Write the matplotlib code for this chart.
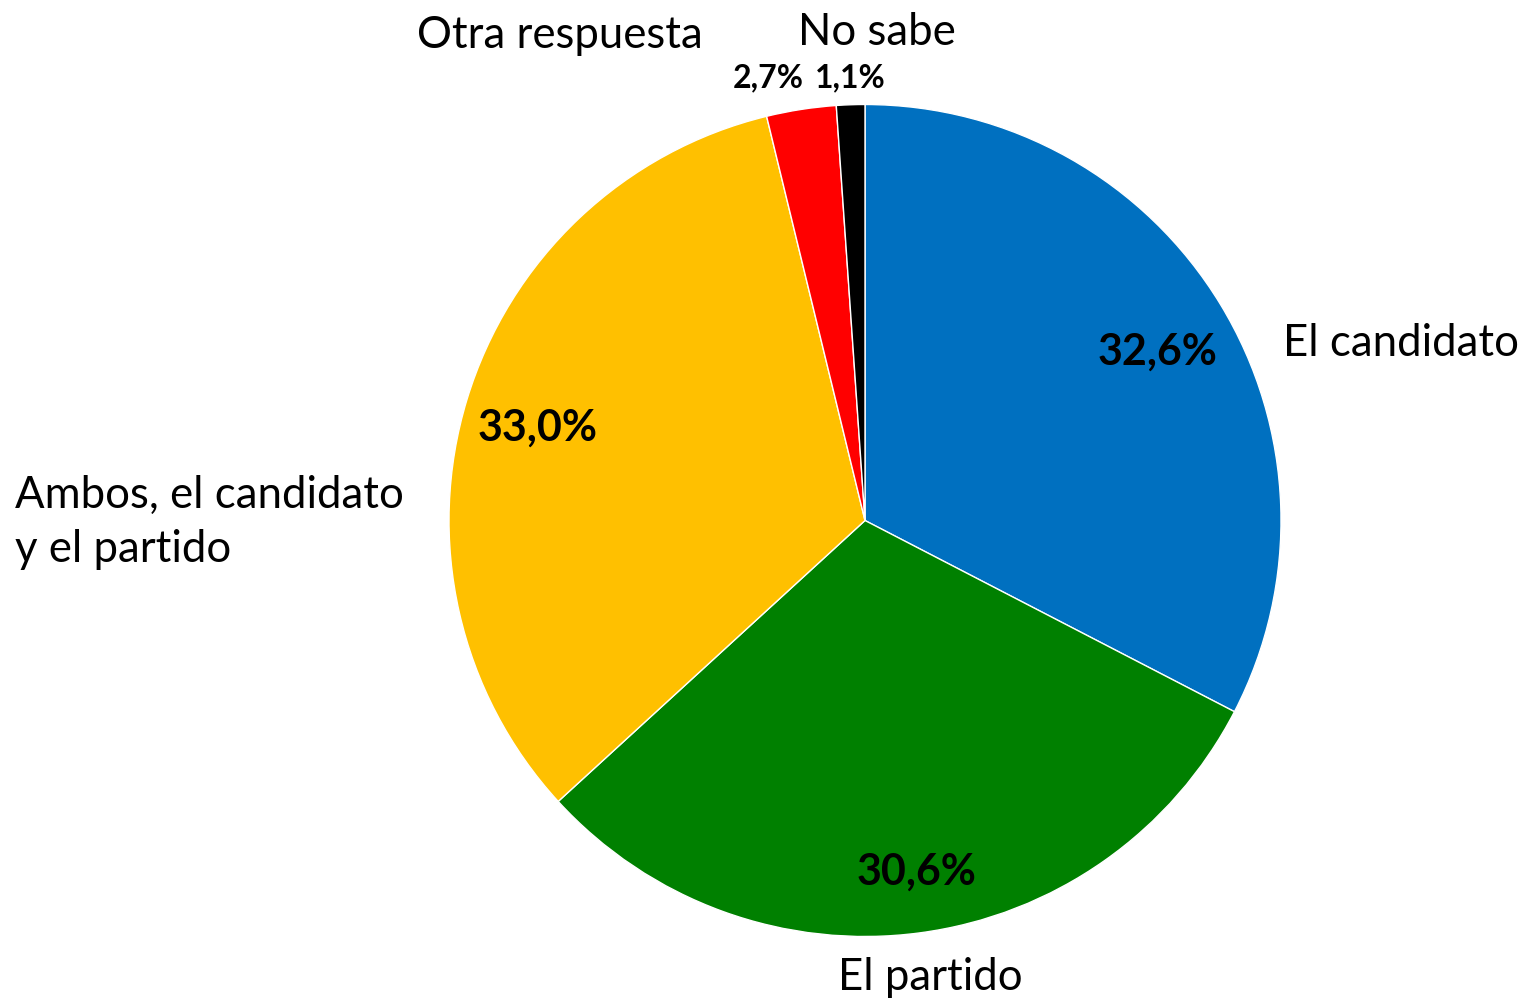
import matplotlib
matplotlib.use("Agg")
import matplotlib.pyplot as plt

categories = ["El candidato", "El partido", "Ambos, el candidato\ny el partido", "Otra respuesta", "No sabe"]
values = [32.6, 30.6, 33.0, 2.7, 1.1]
pct_labels = ["32,6%", "30,6%", "33,0%", "2,7%", "1,1%"]
colors = ["#0070C0", "#008000", "#FFC000", "#FF0000", "#000000"]

# layout (in pie-radius units)
cat_pos = [(1.005, 0.425, "left"), (0.156, -1.098, "center"), (-2.043, -0.004, "left"),
           (-0.733, 1.165, "center"), (0.029, 1.172, "center")]
pct_pos = [(0.702, 0.405), (0.125, -0.843), (-0.788, 0.224), (-0.233, 1.064), (-0.036, 1.064)]
pct_sizes = [31, 31, 31, 23, 23]

plt.rcParams['font.family'] = ['Lato', 'DejaVu Sans']
W, H = 1523, 1000
fig = plt.figure(figsize=(W / 100, H / 100), dpi=100)
R = 416
cx, cy = 865, 520.5
ax = fig.add_axes([(cx - R) / W, (H - cy - R) / H, 2 * R / W, 2 * R / H])
ax.pie(values, colors=colors, startangle=90, counterclock=False, radius=1,
       wedgeprops=dict(edgecolor="white", linewidth=1))
ax.set_xlim(-1, 1)
ax.set_ylim(-1, 1)
ax.set_aspect("equal")
ax.axis("off")

for name, (x, y, ha) in zip(categories, cat_pos):
    ax.text(x, y, name, ha=ha, va="center", fontsize=31.5, color="black",
            linespacing=1.4, clip_on=False)
for lab, (x, y), s in zip(pct_labels, pct_pos, pct_sizes):
    ax.text(x, y, lab, ha="center", va="center", fontsize=s, fontweight="bold",
            color="black", clip_on=False)

fig.savefig("out.png", dpi=100)
